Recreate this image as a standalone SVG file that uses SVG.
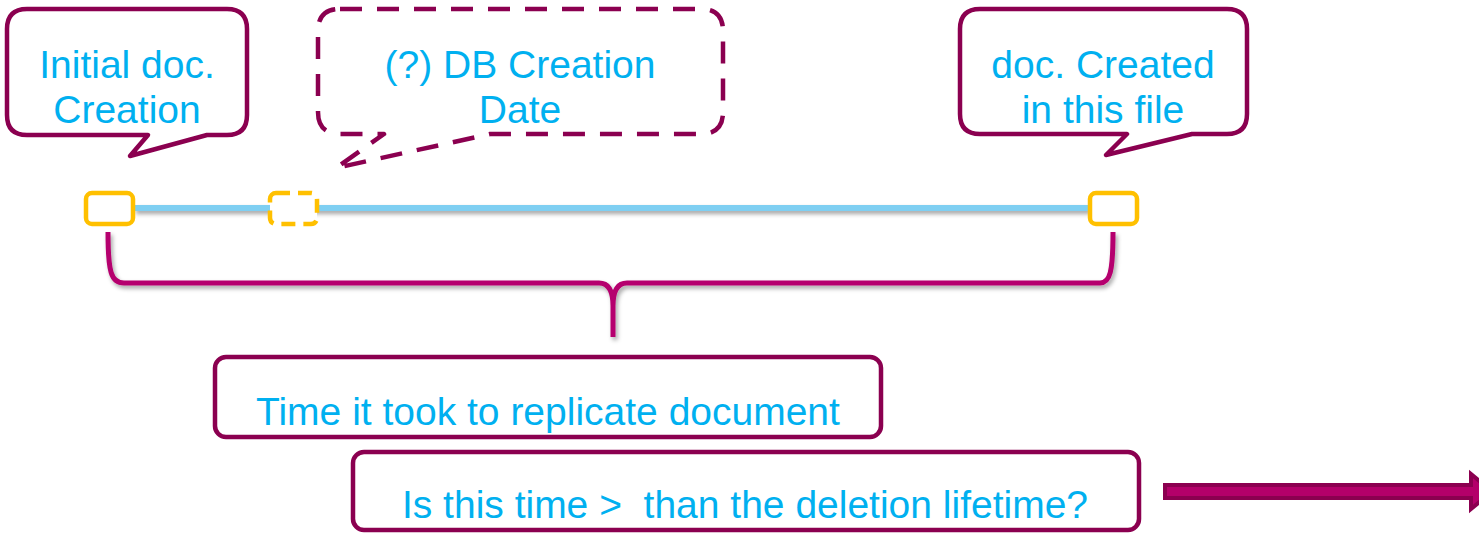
<svg xmlns="http://www.w3.org/2000/svg" width="1479" height="533" viewBox="0 0 1479 533">
<style>
.t{font-family:"Liberation Sans",Arial,sans-serif;font-size:39px;fill:#00B0F0;text-anchor:middle}
.co{fill:#fff;stroke:#8B0050;stroke-width:4.5;stroke-linejoin:round}
.dash{stroke-dasharray:22 15}
.ybox{fill:#fff;stroke:#FFC000;stroke-width:4.5}
</style>
<defs>
<filter id="sh" filterUnits="userSpaceOnUse" x="0" y="0" width="1479" height="533">
<feDropShadow dx="2" dy="3" stdDeviation="2" flood-color="#000" flood-opacity="0.35"/>
</filter>
</defs>
<g id="connectors">
<line id="timeline" x1="134" y1="208" x2="1089" y2="208" stroke="#7FCFF2" stroke-width="6" filter="url(#sh)"/>
<path id="brace" d="M108,232 C108,272 111,283 124,283 L599,283 Q613,283 613,306 L613,337 M613,306 Q613,283 627,283 L1100,283 C1110,283 1113,272 1113,232" fill="none" stroke="#B5006E" stroke-width="5" stroke-linejoin="round" filter="url(#sh)"/>
<path id="arrow" d="M1165,485 L1471,485 L1471,474 L1492,491.5 L1471,509 L1471,498 L1165,498 Z" fill="#B4006A" stroke="#8B0050" stroke-width="4"/>
</g>
<g id="initial-creation">
<path class="co" d="M27,9 H227 Q247,9 247,29 V115 Q247,135 227,135 H207 L130,156 L148,135 H27 Q7,135 7,115 V29 Q7,9 27,9 Z"/>
<text class="t" x="127" y="78">Initial doc.</text>
<text class="t" x="127" y="123">Creation</text>
</g>
<g id="db-creation">
<path class="co dash" d="M340,9 H701 Q723,9 723,31 V112 Q723,134 701,134 H490 L336,168 L384,134 H340 Q318,134 318,112 V31 Q318,9 340,9 Z"/>
<text class="t" x="520" y="78">(?) DB Creation</text>
<text class="t" x="520" y="123">Date</text>
</g>
<g id="created-in-file">
<path class="co" d="M980,9 H1227 Q1247,9 1247,29 V114 Q1247,134 1227,134 H1192 L1106,155 L1127,134 H980 Q960,134 960,114 V29 Q960,9 980,9 Z"/>
<text class="t" x="1103" y="78">doc. Created</text>
<text class="t" x="1103" y="123">in this file</text>
</g>
<g id="marker-initial">
<rect class="ybox" x="86" y="193" width="47" height="31" rx="6"/>
</g>
<g id="marker-db">
<rect class="ybox" x="270" y="193" width="47" height="31" rx="6" stroke-dasharray="14 8"/>
</g>
<g id="marker-file">
<rect class="ybox" x="1090" y="193" width="47" height="31" rx="6"/>
</g>
<g id="replicate-time">
<rect class="co" x="215" y="357" width="666" height="80" rx="11"/>
<text class="t" x="548" y="425">Time it took to replicate document</text>
</g>
<g id="deletion-question">
<rect class="co" x="353" y="452" width="786" height="78" rx="11"/>
<text class="t" x="745" y="518" xml:space="preserve">Is this time &gt;  than the deletion lifetime?</text>
</g>
</svg>
